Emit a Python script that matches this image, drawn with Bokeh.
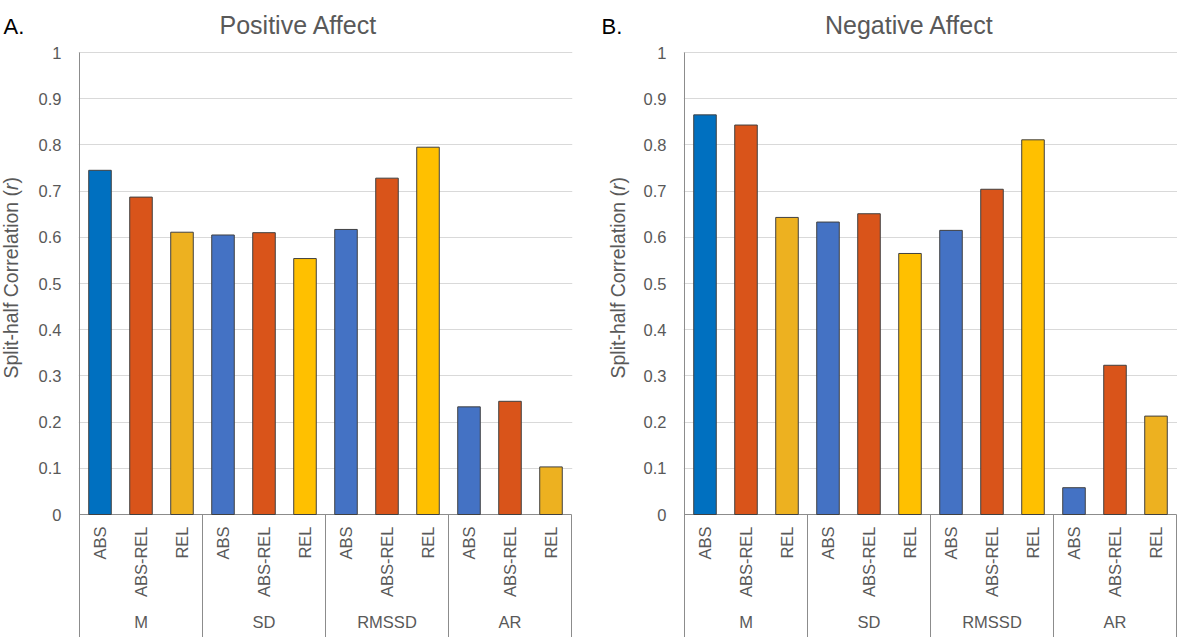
import numpy as np
from bokeh.plotting import figure
from bokeh.layouts import row
from bokeh.models import Range1d, FixedTicker, NumeralTickFormatter, Label
from bokeh.core.properties import value
from bokeh.embed import file_html
from bokeh.resources import INLINE

# ---------------- data ----------------
groups = ["M", "SD", "RMSSD", "AR"]
subgroups = ["ABS", "ABS-REL", "REL"]

pa_abs = [0.745, 0.605, 0.617, 0.233]
pa_absrel = [0.687, 0.610, 0.728, 0.245]
pa_rel = [0.611, 0.554, 0.795, 0.103]

na_abs = [0.865, 0.633, 0.615, 0.058]
na_absrel = [0.843, 0.651, 0.704, 0.323]
na_rel = [0.643, 0.565, 0.811, 0.213]

y_ticks = [0, 0.1, 0.2, 0.3, 0.4, 0.5, 0.6, 0.7, 0.8, 0.9, 1.0]
panel_titles = ["Positive Affect", "Negative Affect"]
panel_letters = ["A.", "B."]
y_label_main = "Split-half Correlation ("
y_label_var = "r"
y_label_end = ")"

# ---------------- styles / layout ----------------
abs_colors = ["#0070C0", "#4472C4", "#4472C4", "#4472C4"]
absrel_colors = ["#D9541A", "#D9541A", "#D9541A", "#D9541A"]
rel_colors = ["#EDB120", "#FFC000", "#FFC000", "#EDB120"]

FONT = "Liberation Sans"
GRAY_TXT = "#595959"
AXIS_COL = "#8C8C8C"
GRID_COL = "#D9D9D9"
H = 637
Y1_PX = 52          # pixel row of value 1
PX_PER_UNIT = 462.0
SLOT_PX = 41.0


def make_strip(idx, width, letter_x, ylab_x):
    s = figure(frame_width=width, frame_height=H, min_border=0,
               x_range=Range1d(0, width), y_range=Range1d(0, H),
               toolbar_location=None, output_backend="svg",
               x_axis_location=None, y_axis_location=None)
    s.outline_line_color = None
    s.grid.visible = False
    s.text(x=[letter_x], y=[H - 26], text=[panel_letters[idx]],
           text_align="left", text_baseline="alphabetic",
           text_font=value(FONT), text_font_size="22px", text_color="black")
    fs = 19.5
    w_main = 9.669 * fs
    w_r = 0.333 * fs
    y0 = H - 378
    for txt, off, style in [(y_label_main, 0, "normal"),
                            (y_label_var, w_main, "italic"),
                            (y_label_end, w_main + w_r, "normal")]:
        s.text(x=[ylab_x], y=[y0 + off], text=[txt], angle=np.pi / 2,
               text_align="left", text_baseline="middle",
               text_font=value(FONT), text_font_size=f"{fs}px",
               text_font_style=style, text_color=GRAY_TXT)
    return s


def make_panel(idx, abs_v, absrel_v, rel_v, border_left, border_right, title_x):
    n_sub = len(subgroups)
    n = len(groups) * n_sub
    vals, cols, labels = [], [], []
    for g in range(len(groups)):
        vals += [abs_v[g], absrel_v[g], rel_v[g]]
        cols += [abs_colors[g], absrel_colors[g], rel_colors[g]]
        labels += subgroups
    xs = np.arange(n) + 0.5

    y_end = 1 + Y1_PX / PX_PER_UNIT
    y_start = y_end - H / PX_PER_UNIT
    pad = 1 / SLOT_PX

    p = figure(frame_width=int(n * SLOT_PX) + 2, frame_height=H,
               x_range=Range1d(-pad, n + pad), y_range=Range1d(y_start, y_end),
               min_border_left=border_left, min_border_right=border_right,
               min_border_top=0, min_border_bottom=0,
               toolbar_location=None, output_backend="svg",
               x_axis_location=None, y_axis_location="left")
    p.outline_line_color = None
    p.background_fill_color = "white"
    p.border_fill_color = "white"

    ax = p.yaxis[0]
    ax.ticker = FixedTicker(ticks=y_ticks)
    ax.formatter = NumeralTickFormatter(format="0.[0]")
    ax.major_tick_line_color = None
    ax.minor_tick_line_color = None
    ax.major_tick_out = 0
    ax.major_tick_in = 0
    ax.major_label_standoff = 17
    ax.axis_line_color = None
    ax.major_label_text_font = FONT
    ax.major_label_text_font_size = "16.5px"
    ax.major_label_text_color = GRAY_TXT

    p.xgrid.visible = False
    p.ygrid.ticker = FixedTicker(ticks=y_ticks[1:])
    p.ygrid.grid_line_color = GRID_COL
    p.ygrid.grid_line_width = 1

    # zero line (category axis) and group dividers
    p.segment(x0=[0], x1=[n], y0=[0], y1=[0], line_color=AXIS_COL, line_width=1)
    p.segment(x0=[0], x1=[0], y0=[y_ticks[-1]], y1=[y_start],
              line_color=AXIS_COL, line_width=1)
    div_x = np.arange(1, len(groups) + 1) * n_sub
    p.segment(x0=div_x, x1=div_x, y0=np.zeros(len(div_x)),
              y1=np.full(len(div_x), y_start), line_color=AXIS_COL, line_width=1)

    p.vbar(x=xs, top=vals, bottom=0, width=0.55, fill_color=cols,
           line_color="#404040", line_width=1)

    p.text(x=xs, y=np.zeros(n), text=labels, angle=np.pi / 2,
           text_align="right", text_baseline="middle", y_offset=12,
           text_font=value(FONT), text_font_size="16.5px", text_color=GRAY_TXT)

    gx = np.arange(len(groups)) * n_sub + n_sub / 2
    p.text(x=gx, y=np.zeros(len(groups)), text=groups,
           text_align="center", text_baseline="middle", y_offset=107,
           text_font=value(FONT), text_font_size="16.5px", text_color=GRAY_TXT)

    p.add_layout(Label(x=title_x, y=24, x_units="canvas", y_units="canvas",
                       text=panel_titles[idx], text_align="center",
                       text_baseline="alphabetic", text_font=FONT,
                       text_font_size="25px", text_color=GRAY_TXT))
    return p


s1 = make_strip(0, 34, 3, 10.5)
p1 = make_panel(0, pa_abs, pa_absrel, pa_rel, 44, 18, 298 - 34)
s2 = make_strip(1, 44, 11, 27)
p2 = make_panel(1, na_abs, na_absrel, na_rel, 49, 0, 909 - 590 - 44)

layout = row(s1, p1, s2, p2)
open("out.html", "w").write(file_html(layout, INLINE))
